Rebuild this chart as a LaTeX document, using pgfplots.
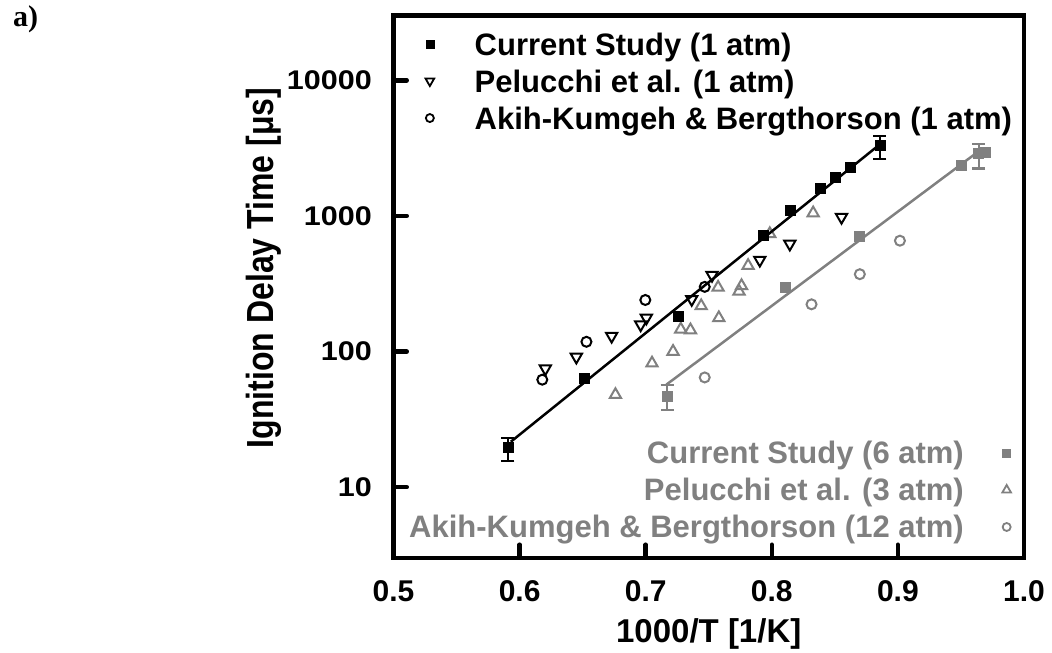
\documentclass[border=0pt]{standalone}
\usepackage{fontspec}
\setmainfont{Liberation Sans}
\newfontfamily\panelfont{Liberation Serif}
\usepackage{pgfplots}
\pgfplotsset{compat=1.18}

\definecolor{midgray}{gray}{0.5}
\newcommand{\xtickfont}{\bfseries\fontsize{30}{30}\selectfont}
\newcommand{\ytickfont}{\bfseries\fontsize{27}{27}\selectfont}
\newcommand{\legfont}{\bfseries\fontsize{31}{31}\selectfont}

\begin{document}
\begin{tikzpicture}[x=1pt,y=1pt]
\useasboundingbox (0,0) rectangle (1052,653);
\node[anchor=base west, inner sep=0pt, font=\panelfont\bfseries\fontsize{30}{30}\selectfont] at (13,626) {a)};

% high-pressure data (grey), legend at lower right
\begin{axis}[ymode=log,
  at={(393.5pt,95pt)}, anchor=south west,
  scale only axis, width=630.5pt, height=542.3pt,
  xmin=0.5, xmax=1.0, ymin=3, ymax=30000,
  hide axis,
  legend image code/.code={\draw[#1] plot coordinates {(0pt,0pt)};},
  legend plot pos=right, legend cell align=right,
  legend style={draw=none, fill=none, inner sep=0pt, outer sep=0pt,
    row sep=15pt, font=\legfont, text=midgray,
    nodes={inner sep=0pt, text height=22pt, text depth=0pt},
    at={(0.9794,0.0369)}, anchor=south east, column sep=38.5pt}]
% Pelucchi et al. (3 atm)
\addplot[forget plot, only marks, mark=triangle, mark size=6.5pt, midgray,
  mark options={line width=2pt}] coordinates {
  (0.676,48) (0.705,82) (0.7217,100) (0.7278,146) (0.7355,144) (0.744,217)
  (0.758,177) (0.7574,297) (0.776,305) (0.774,278) (0.7812,430) (0.7984,738)
  (0.8328,1050)};
% Akih-Kumgeh & Bergthorson (12 atm)
\addplot[forget plot, only marks, mark=o, mark size=5pt, midgray,
  mark options={line width=2pt}] coordinates {
  (0.7468,64.4) (0.8315,223) (0.8698,372) (0.9016,657)};
% Arrhenius fit, 6 atm
\addplot[forget plot, midgray, line width=2.5pt, no marks] coordinates {
  (0.7164,57) (0.963,2950)};
% current study (6 atm)
\addplot[forget plot, only marks, mark=square*, mark size=5pt, midgray] coordinates {
  (0.811,300) (0.8696,705) (0.9505,2372) (0.969,2950)};
\addplot[forget plot, only marks, mark=square*, mark size=5pt, midgray,
  error bars/.cd, y dir=both, y explicit,
  error bar style={line width=2.2pt, midgray},
  error mark options={rotate=90, mark size=6.5pt, line width=2.2pt, midgray}]
  coordinates {
  (0.717,47) += (0,10) -= (0,10)
  (0.964,2890) += (0,500) -= (0,650)};
\addlegendimage{only marks, mark=square*, mark size=4pt, midgray}
\addlegendimage{only marks, mark=triangle, mark size=5pt, midgray, mark options={line width=1.8pt}}
\addlegendimage{only marks, mark=o, mark size=4pt, midgray, mark options={line width=1.8pt}}
\legend{Current Study (6 atm), Pelucchi et al. (3 atm), Akih-Kumgeh \& Bergthorson (12 atm)}
\end{axis}

% atmospheric data (black), frame and ticks
\begin{axis}[ymode=log,
  at={(393.5pt,95pt)}, anchor=south west,
  scale only axis, width=630.5pt, height=542.3pt,
  xmin=0.5, xmax=1.0, ymin=3, ymax=30000,
  axis line style={line width=4.5pt},
  major tick length=0pt, yminorticks=false,
  unbounded coords=jump,
  xtick={0.5,0.6,0.7,0.8,0.9,1.0},
  xticklabels={0.5,0.6,0.7,0.8,0.9,1.0},
  ytick={10,100,1000,10000},
  yticklabels={10,100,1000,10000},
  xticklabel style={font=\xtickfont, anchor=base, inner sep=0pt, yshift=-43.7pt},
  yticklabel style={font=\ytickfont, anchor=east, inner sep=0pt, xshift=-21.5pt, xscale=1.13},
  every axis x label/.style={at={(axis description cs:0.5,-0.140)}, anchor=center,
    font=\bfseries\fontsize{33}{33}\selectfont},
  every axis y label/.style={at={(axis description cs:-0.2056,0.5348)}, rotate=90, yscale=1.18,
    anchor=center, font=\bfseries\fontsize{32}{32}\selectfont},
  xlabel={1000/T [1/K]},
  ylabel={Ignition Delay Time [μs]},
  legend image code/.code={\draw[#1] plot coordinates {(0pt,0pt)};},
  legend cell align=left,
  legend style={draw=none, fill=none, inner sep=0pt, outer sep=0pt,
    row sep=15pt, font=\legfont,
    nodes={inner sep=0pt, text height=22pt, text depth=0pt},
    at={(0.0508,0.968)}, anchor=north west, column sep=40.5pt}]
% inward tick stubs along the bottom and left edges
\addplot[forget plot, black, line width=4.5pt, line cap=round, no marks] coordinates {
  (0.6,3) (0.6,3.76) (0.6,nan)
  (0.7,3) (0.7,3.76) (0.7,nan)
  (0.8,3) (0.8,3.76) (0.8,nan)
  (0.9,3) (0.9,3.76)};
\addplot[forget plot, black, line width=4.5pt, line cap=round, no marks] coordinates {
  (0.5,10) (0.5105,10) (nan,10)
  (0.5,100) (0.5105,100) (nan,100)
  (0.5,1000) (0.5105,1000) (nan,1000)
  (0.5,10000) (0.5105,10000)};
% Arrhenius fit, 1 atm
\addplot[forget plot, black, line width=2.5pt, no marks] coordinates {
  (0.593,21.6) (0.885,3335)};
% Pelucchi et al. (1 atm)
\addplot[forget plot, only marks, mark=triangle, mark size=6.5pt, black,
  mark options={rotate=180, line width=2pt}] coordinates {
  (0.6204,74.8) (0.645,91.2) (0.673,130) (0.696,158) (0.7005,177) (0.7365,243)
  (0.7526,366) (0.7905,473) (0.8143,622) (0.8553,980)};
% Akih-Kumgeh & Bergthorson (1 atm)
\addplot[forget plot, only marks, mark=o, mark size=5pt, black,
  mark options={line width=2pt}] coordinates {
  (0.618,62) (0.653,118) (0.6997,240) (0.7468,300)};
% current study (1 atm)
\addplot[forget plot, only marks, mark=square*, mark size=5pt, black] coordinates {
  (0.6516,63.7) (0.726,183) (0.7931,716) (0.8143,1112) (0.838,1593)
  (0.85,1919) (0.8625,2301)};
\addplot[forget plot, only marks, mark=square*, mark size=5pt, black,
  error bars/.cd, y dir=both, y explicit,
  error bar style={line width=2.2pt, black},
  error mark options={rotate=90, mark size=6.5pt, line width=2.2pt, black}]
  coordinates {
  (0.5907,19.8) += (0,3.3) -= (0,4.3)
  (0.8857,3335) += (0,570) -= (0,710)};
\addlegendimage{only marks, mark=square*, mark size=4pt, black}
\addlegendimage{only marks, mark=triangle, mark size=5pt, black, mark options={rotate=180, line width=1.8pt}}
\addlegendimage{only marks, mark=o, mark size=4pt, black, mark options={line width=1.8pt}}
\legend{Current Study (1 atm), Pelucchi et al. (1 atm), Akih-Kumgeh \& Bergthorson (1 atm)}
\end{axis}
\end{tikzpicture}
\end{document}
